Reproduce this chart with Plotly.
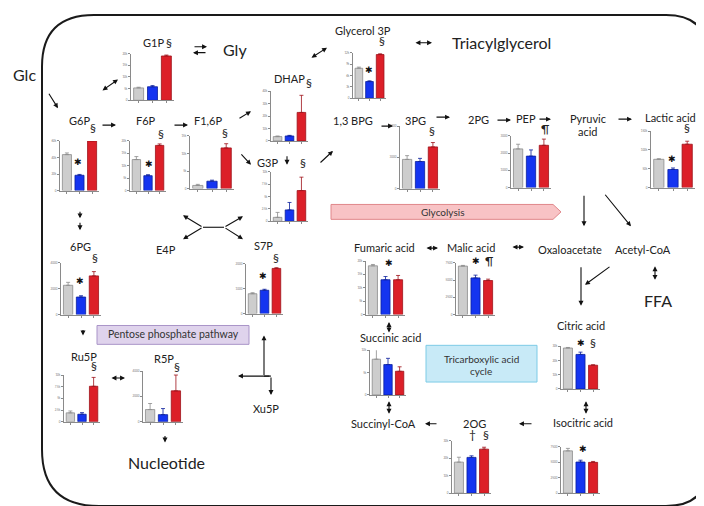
import plotly.graph_objects as go

# ===================== 1. page size =====================
W, H = 704, 506


def px(x):
    return x / W


def py(y):
    return 1 - y / H


# ===================== 2. metabolite values =====================
# order in every list: control (gray), group 2 (blue), group 3 (red)
G1P = [5300, 5800, 19000]
G1P_ERR = [300, 500, 400]
G6P = [43500, 18500, 60000]
G6P_ERR = [2000, 1000, 1500]
F6P = [12500, 6000, 18200]
F6P_ERR = [1200, 400, 600]
F16P = [900, 2100, 11600]
F16P_ERR = [300, 300, 1200]
DHAP = [3500, 4000, 23000]
DHAP_ERR = [500, 500, 13800]
G3P = [800, 2300, 6200]
G3P_ERR = [1000, 1500, 2700]
GLYCEROL3P = [7900, 4400, 11500]
GLYCEROL3P_ERR = [300, 200, 200]
PG3 = [2800, 2600, 4000]
PG3_ERR = [360, 300, 420]
PEP = [2250, 1830, 2460]
PEP_ERR = [270, 360, 360]
LACTIC = [75000, 48000, 115000]
LACTIC_ERR = [1500, 4000, 8000]
PG6 = [2270, 1360, 3000]
PG6_ERR = [230, 100, 330]
S7P = [800, 940, 1820]
S7P_ERR = [40, 40, 30]
RU5P = [1900, 1600, 7600]
RU5P_ERR = [400, 350, 1900]
R5P = [960, 560, 2440]
R5P_ERR = [480, 480, 1250]
FUMARIC = [18200, 13000, 13000]
FUMARIC_ERR = [500, 1200, 1600]
MALIC = [7050, 5330, 4950]
MALIC_ERR = [100, 400, 200]
SUCCINIC = [8000, 6800, 5300]
SUCCINIC_ERR = [2200, 1400, 1000]
OG2 = [17700, 20400, 25100]
OG2_ERR = [2800, 900, 1100]
CITRIC = [28800, 24300, 16700]
CITRIC_ERR = [400, 1600, 300]
ISOCITRIC = [6800, 5000, 4950]
ISOCITRIC_ERR = [400, 300, 150]

# y-axis ranges (max, tick step)
Y_SCALES = {
    "G1P": (20000, 5000), "G6P": (60000, 20000), "F6P": (20000, 5000),
    "F16P": (15000, 5000), "DHAP": (40000, 10000), "G3P": (10000, 2500),
    "GLYCEROL3P": (12000, 3000), "PG3": (6000, 3000), "PEP": (3000, 1000),
    "LACTIC": (150000, 50000), "PG6": (4000, 2000), "S7P": (2000, 1000),
    "RU5P": (10000, 2500), "R5P": (4000, 2000), "FUMARIC": (20000, 5000),
    "MALIC": (7500, 2500), "SUCCINIC": (10000, 5000), "OG2": (30000, 10000),
    "CITRIC": (30000, 10000), "ISOCITRIC": (7500, 2500),
}

# ===================== 3. where each mini chart sits (pixels: axis x0, x1, top, base) =====================
CHARTS = [
    ("G1P", G1P, G1P_ERR, (123, 166, 44, 91)),
    ("G6P", G6P, G6P_ERR, (52, 91, 132, 182)),
    ("F6P", F6P, F6P_ERR, (122, 158, 132, 182)),
    ("F16P", F16P, F16P_ERR, (182, 226, 127, 180)),
    ("DHAP", DHAP, DHAP_ERR, (263, 300, 82, 132)),
    ("G3P", G3P, G3P_ERR, (263, 300, 163, 213)),
    ("GLYCEROL3P", GLYCEROL3P, GLYCEROL3P_ERR, (345, 378, 43, 89)),
    ("PG3", PG3, PG3_ERR, (392, 432, 117, 180)),
    ("PEP", PEP, PEP_ERR, (503, 543, 127, 179)),
    ("LACTIC", LACTIC, LACTIC_ERR, (643, 687, 122, 179)),
    ("PG6", PG6, PG6_ERR, (53, 93, 255, 307)),
    ("S7P", S7P, S7P_ERR, (238, 275, 256, 306)),
    ("RU5P", RU5P, RU5P_ERR, (56, 92, 368, 415)),
    ("R5P", R5P, R5P_ERR, (135, 175, 364, 415)),
    ("FUMARIC", FUMARIC, FUMARIC_ERR, (358, 397, 253, 307)),
    ("MALIC", MALIC, MALIC_ERR, (448, 487, 255, 307)),
    ("SUCCINIC", SUCCINIC, SUCCINIC_ERR, (362, 398, 343, 388)),
    ("OG2", OG2, OG2_ERR, (444, 483, 434, 487)),
    ("CITRIC", CITRIC, CITRIC_ERR, (553, 592, 339, 382)),
    ("ISOCITRIC", ISOCITRIC, ISOCITRIC_ERR, (553, 592, 440, 487)),
]

FILL = ["#cdcdcd", "#1434f0", "#dc1f28"]
EDGE = ["#8c8c8c", "#0b1f9c", "#9e1219"]
AXIS_C = "#8a8a8a"
FONT = "Lato"
TXT_C = "#222222"

fig = go.Figure()
axes = {}

# ===================== 4. mini bar charts =====================
for i, (key, vals, errs, box) in enumerate(CHARTS, start=1):
    xa = "x" if i == 1 else f"x{i}"
    ya = "y" if i == 1 else f"y{i}"
    for j in range(3):
        fig.add_trace(go.Bar(
            x=[j], y=[vals[j]], width=0.72,
            marker=dict(color=FILL[j], line=dict(color=EDGE[j], width=0.8)),
            error_y=dict(type="data", symmetric=False, array=[errs[j]], arrayminus=[0],
                         color=EDGE[j], thickness=0.8, width=2),
            xaxis=xa, yaxis=ya, showlegend=False, hoverinfo="skip",
        ))
    x0, x1, top, base = box
    ymax, dtick = Y_SCALES[key]
    axes["xaxis" if i == 1 else f"xaxis{i}"] = dict(
        domain=[px(x0), px(x1)], range=[-0.55, 2.55], anchor=ya,
        showline=True, linecolor=AXIS_C, linewidth=1, showgrid=False, zeroline=False,
        ticks="outside", ticklen=2, tickwidth=0.8, tickcolor=AXIS_C,
        tickvals=[0, 1, 2], showticklabels=False, fixedrange=True,
    )
    axes["yaxis" if i == 1 else f"yaxis{i}"] = dict(
        domain=[py(base), py(top)], range=[0, ymax], anchor=xa,
        showline=True, linecolor=AXIS_C, linewidth=1, showgrid=False, zeroline=False,
        ticks="outside", ticklen=2, tickwidth=0.8, tickcolor=AXIS_C,
        dtick=dtick, tick0=0, tickfont=dict(size=3, color="#777777", family=FONT),
        fixedrange=True,
    )

# ===================== 5. text labels =====================
anns = []


def label(text, x, y, size=11, family=FONT, color=TXT_C):
    anns.append(dict(text=text, x=px(x), y=py(y), xref="paper", yref="paper",
                     showarrow=False, xanchor="center", yanchor="middle",
                     font=dict(size=size, family=family, color=color)))


def arrow(x0, y0, x1, y1, both=False, head=2, size=0.9):
    anns.append(dict(text="", x=px(x1), y=py(y1), xref="paper", yref="paper",
                     ax=x0 - x1, ay=y0 - y1, axref="pixel", ayref="pixel",
                     showarrow=True, arrowhead=head, startarrowhead=head,
                     arrowsize=size, startarrowsize=size, arrowwidth=1.1,
                     arrowcolor="#111111", arrowside="end+start" if both else "end"))


names = [
    ("G1P", 145, 33), ("G6P", 71, 111), ("F6P", 138, 111), ("F1,6P", 200, 111),
    ("DHAP", 281, 69), ("G3P", 259, 154), ("Glycerol 3P", 355, 21),
    ("1,3 BPG", 345, 111), ("3PG", 407, 111), ("2PG", 470, 110), ("PEP", 518, 109),
    ("Pyruvic", 580, 109), ("acid", 580, 122), ("Lactic acid", 662, 108),
    ("6PG", 72, 238), ("E4P", 158, 241), ("S7P", 255, 237),
    ("Ru5P", 76, 349), ("R5P", 156, 351), ("Xu5P", 258, 402),
    ("Fumaric acid", 376, 239), ("Malic acid", 463, 239),
    ("Oxaloacetate", 562, 241), ("Acetyl-CoA", 635, 241),
    ("Citric acid", 573, 318), ("Isocitric acid", 575, 416),
    ("Succinic acid", 382, 330), ("Succinyl-CoA", 375, 417), ("2OG", 466, 417),
]
for t, x, y in names:
    label(t, x, y)

for t, x, y in [("Glc", 16, 65), ("Gly", 227, 40), ("Triacylglycerol", 493, 33),
                ("FFA", 650, 293), ("Nucleotide", 158, 456)]:
    label(t, x, y, size=16)

label("Glycolysis", 434, 204, size=10, color="#333333")
label("Pentose phosphate pathway", 165, 327, size=10.5, color="#333333")
label("Tricarboxylic acid", 473, 352, size=10, color="#333333")
label("cycle", 473, 364, size=10, color="#333333")

# significance marks
marks = [
    ("§", 161, 33), ("§", 85, 118), ("§", 153, 124), ("§", 217, 123),
    ("§", 301, 73), ("§", 295, 154), ("§", 374, 31), ("§", 424, 121),
    ("¶", 537, 119), ("§", 679, 118), ("§", 87, 249), ("§", 268, 249),
    ("§", 86, 358), ("§", 169, 359), ("¶", 481, 252), ("†", 464, 428),
    ("§", 478, 428), ("§", 585, 335),
]
for t, x, y in marks:
    label(t, x, y, size=12)

stars = [(70, 153), (141, 155), (361, 60), (664, 150), (72, 273), (255, 268),
         (381, 255), (468, 253), (573, 336), (575, 442)]
for x, y in stars:
    label("✱", x, y, size=9, family="DejaVu Sans", color="#111111")

# ===================== 6. pathway arrows =====================
arrow(40, 83, 50, 99)
arrow(93, 82, 110, 70, both=True)
arrow(185, 37, 199, 37)
arrow(199, 43, 185, 43)
arrow(93, 116, 108, 116)
arrow(165, 116, 180, 116)
arrow(230, 110, 243, 102)
arrow(232, 144, 243, 156)
arrow(302, 49, 319, 38, both=True)
arrow(406, 33, 424, 33, both=True)
arrow(279, 146, 279, 156)
arrow(311, 155, 325, 142)
arrow(372, 117, 385, 117)
arrow(427, 108, 442, 108)
arrow(488, 111, 503, 111)
arrow(530, 110, 543, 110)
arrow(609, 110, 624, 110)
arrow(576, 186, 576, 218)
arrow(596, 185, 623, 218)
arrow(647, 257, 647, 272, both=True)
arrow(573, 258, 573, 298)
arrow(603, 258, 577, 277)
arrow(578, 393, 578, 407, both=True)
arrow(525, 417, 511, 417)
arrow(430, 417, 417, 417)
arrow(381, 393, 381, 407, both=True)
arrow(381, 313, 381, 325, both=True)
arrow(417, 240, 430, 240, both=True)
arrow(503, 239, 516, 239, both=True)
arrow(72, 202, 72, 210)
arrow(72, 213, 72, 222)
arrow(75, 321, 75, 328)
arrow(102, 371, 117, 371, both=True)
arrow(157, 428, 157, 436)
# E4P / S7P crossover
arrow(195, 219, 175, 207)
arrow(195, 219, 175, 231)
arrow(216, 219, 235, 208)
arrow(216, 219, 235, 231)
# Xu5P junction
arrow(256, 369, 256, 328)
arrow(263, 369, 230, 369)
arrow(263, 369, 263, 388)

# ===================== 7. shapes: frame, banners =====================


def frame_path(x0, y0, x1, y1, tl, tr, br, bl):
    return (f"M {px(x0 + tl)},{py(y0)} L {px(x1 - tr)},{py(y0)} "
            f"Q {px(x1)},{py(y0)} {px(x1)},{py(y0 + tr)} "
            f"L {px(x1)},{py(y1 - br)} Q {px(x1)},{py(y1)} {px(x1 - br)},{py(y1)} "
            f"L {px(x0 + bl)},{py(y1)} Q {px(x0)},{py(y1)} {px(x0)},{py(y1 - bl)} "
            f"L {px(x0)},{py(y0 + tl)} Q {px(x0)},{py(y0)} {px(x0 + tl)},{py(y0)} Z")


glyco = (f"M {px(323)},{py(196)} L {px(545)},{py(196)} L {px(553)},{py(203.5)} "
         f"L {px(545)},{py(211)} L {px(323)},{py(211)} Z")

shapes = [
    dict(type="path", path=frame_path(34, 5, 700, 500, 52, 42, 42, 57),
         xref="paper", yref="paper", line=dict(color="#1a1a1a", width=2), layer="below"),
    dict(type="path", path=glyco, xref="paper", yref="paper",
         fillcolor="#f8c3c5", line=dict(color="#e0868a", width=1), layer="below"),
    dict(type="rect", x0=px(89), x1=px(241), y0=py(337), y1=py(318),
         xref="paper", yref="paper", fillcolor="#dfd3ec",
         line=dict(color="#a994c8", width=1), layer="below"),
    dict(type="rect", x0=px(418), x1=px(529), y0=py(375), y1=py(338),
         xref="paper", yref="paper", fillcolor="#c8eaf7",
         line=dict(color="#7ccbe6", width=1), layer="below"),
    dict(type="line", x0=px(195), x1=px(216), y0=py(219), y1=py(219),
         xref="paper", yref="paper", line=dict(color="#111111", width=1.1)),
    dict(type="line", x0=px(256), x1=px(263), y0=py(369), y1=py(369),
         xref="paper", yref="paper", line=dict(color="#111111", width=1.1)),
]

fig.update_layout(
    width=W, height=H, autosize=False,
    margin=dict(l=0, r=0, t=0, b=0),
    paper_bgcolor="white", plot_bgcolor="rgba(0,0,0,0)",
    showlegend=False, barmode="overlay",
    annotations=anns, shapes=shapes,
    **axes,
)

fig.write_html("out.html")
